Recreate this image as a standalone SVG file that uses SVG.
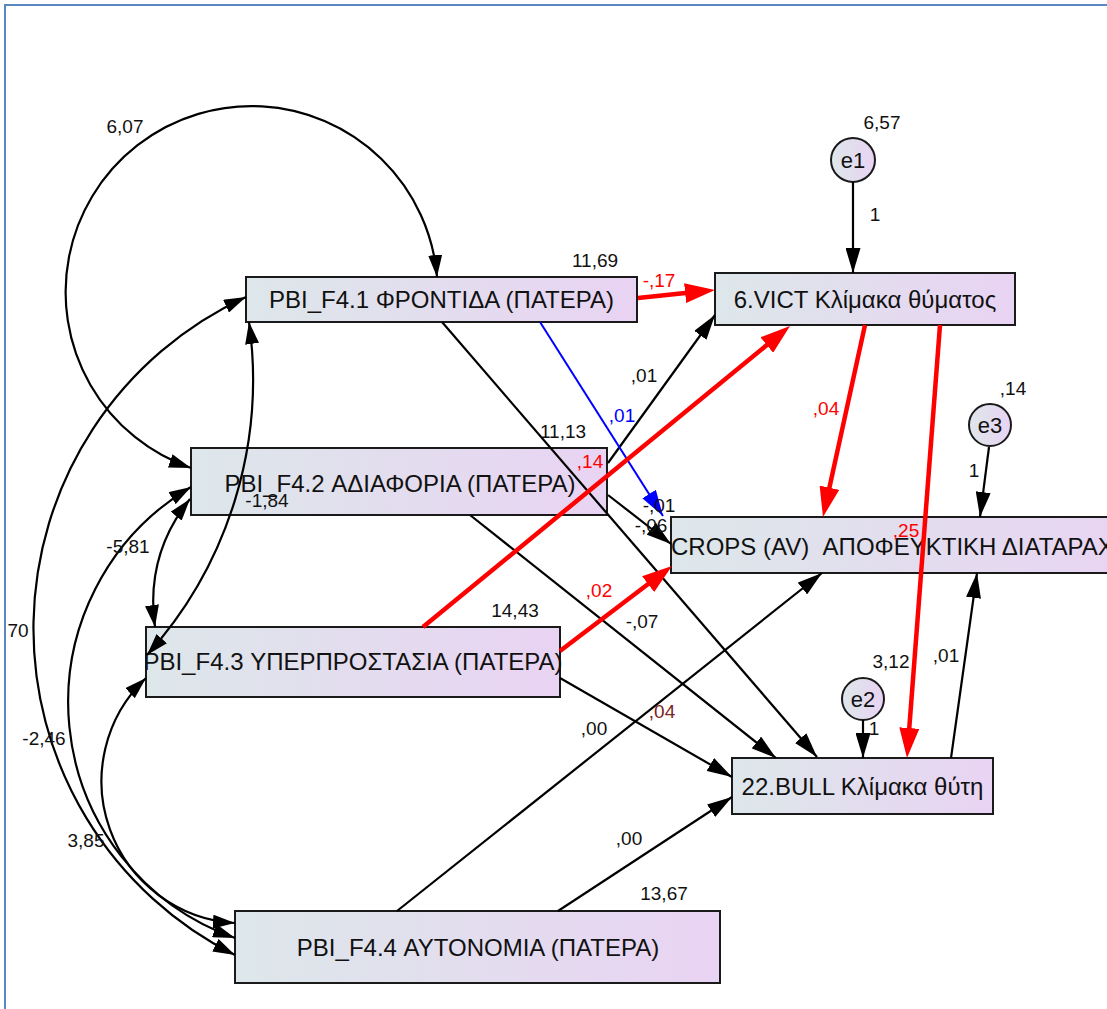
<svg xmlns="http://www.w3.org/2000/svg" width="1107" height="1009" viewBox="0 0 1107 1009">
<defs>
<linearGradient id="g" x1="0" y1="0" x2="1" y2="0">
<stop offset="0" stop-color="#dde7ea"/>
<stop offset="1" stop-color="#e9d3f3"/>
</linearGradient>
<marker id="aB" viewBox="0 0 25 15" refX="25" refY="7.5" markerWidth="25" markerHeight="15" markerUnits="userSpaceOnUse" orient="auto"><path d="M0,0 L25,7.5 L0,15 z" fill="#000"/></marker>
<marker id="aC" viewBox="0 0 22 14" refX="22" refY="7" markerWidth="22" markerHeight="14" markerUnits="userSpaceOnUse" orient="auto-start-reverse"><path d="M0,0 L22,7 L0,14 z" fill="#000"/></marker>
<marker id="aR" viewBox="0 0 30 20" refX="22" refY="10" markerWidth="30" markerHeight="20" markerUnits="userSpaceOnUse" orient="auto"><path d="M0,0 L30,10 L0,20 z" fill="#ff0000"/></marker>
<marker id="aBl" viewBox="0 0 26 16" refX="26" refY="8" markerWidth="26" markerHeight="16" markerUnits="userSpaceOnUse" orient="auto"><path d="M0,0 L26,8 L0,16 z" fill="#0000ff"/></marker>
</defs>
<style>
.box{fill:url(#g);stroke:#1a1a1a;stroke-width:2}
.nt{font-family:"Liberation Sans",Arial,sans-serif;font-size:24px;fill:#111;text-anchor:middle}
.et{font-family:"Liberation Sans",Arial,sans-serif;font-size:22px;fill:#111;text-anchor:middle}
.lb{font-family:"Liberation Sans",Arial,sans-serif;font-size:19px;fill:#111;text-anchor:middle}
.red{fill:#ff0000}
.blu{fill:#0000ff}
.mar{fill:#7a2424}
.k{fill:none;stroke:#000;stroke-width:2.2;marker-end:url(#aB)}
.cv{fill:none;stroke:#000;stroke-width:2.2;marker-start:url(#aC);marker-end:url(#aC)}
.r{fill:none;stroke:#ff0000;stroke-width:4.5;marker-end:url(#aR)}
.b{fill:none;stroke:#0000ff;stroke-width:2;marker-end:url(#aBl)}
</style>
<rect x="0" y="0" width="1107" height="1009" fill="#fff"/>
<rect x="5" y="5" width="1120" height="1020" fill="#fff" stroke="#5b87c3" stroke-width="2"/>

<g id="F41"><rect class="box" x="246" y="277" width="391" height="45"/><text class="nt" x="441.5" y="308">PBI_F4.1 ΦΡΟΝΤΙΔΑ (ΠΑΤΕΡΑ)</text></g>
<g id="F42"><rect class="box" x="191" y="448" width="416" height="67"/><text class="nt" x="400" y="492">PBI_F4.2 ΑΔΙΑΦΟΡΙΑ (ΠΑΤΕΡΑ)</text></g>
<g id="F43"><rect class="box" x="146" y="627" width="414" height="70"/><text class="nt" x="353" y="670">PBI_F4.3 ΥΠΕΡΠΡΟΣΤΑΣΙΑ (ΠΑΤΕΡΑ)</text></g>
<g id="F44"><rect class="box" x="235" y="911" width="485" height="72"/><text class="nt" x="478" y="956">PBI_F4.4 ΑΥΤΟΝΟΜΙΑ (ΠΑΤΕΡΑ)</text></g>
<g id="VICT"><rect class="box" x="715" y="273" width="300" height="52"/><text class="nt" x="865" y="308">6.VICT Κλίμακα θύματος</text></g>
<g id="CROPS"><rect class="box" x="671" y="517" width="480" height="56"/><text class="nt" x="671" y="555" style="text-anchor:start;white-space:pre">CROPS (AV)  ΑΠΟΦΕΥΚΤΙΚΗ ΔΙΑΤΑΡΑΧ</text></g>
<g id="BULL"><rect class="box" x="732" y="758" width="261" height="56"/><text class="nt" x="862.5" y="795">22.BULL Κλίμακα θύτη</text></g>
<g id="e1"><circle cx="853" cy="160" r="22" fill="url(#g)" stroke="#1a1a1a" stroke-width="2"/><text class="et" x="853" y="168">e1</text></g>
<g id="e3"><circle cx="990" cy="425" r="21" fill="url(#g)" stroke="#1a1a1a" stroke-width="2"/><text class="et" x="990" y="433">e3</text></g>
<g id="e2"><circle cx="863" cy="699" r="21" fill="url(#g)" stroke="#1a1a1a" stroke-width="2"/><text class="et" x="863" y="707">e2</text></g>

<g id="connectors">
<path class="cv" d="M191,468 A186,186 0 1,1 437,277"/>
<path class="cv" d="M246,297 A365,365 0 0,0 235,955"/>
<path class="cv" d="M191,487 A250,250 0 0,0 235,938"/>
<path class="cv" d="M146,678 A142,142 0 0,0 235,923"/>
<path class="cv" d="M249,322 A411,411 0 0,1 147,655"/>
<path class="cv" d="M190,499 Q145,555 155,627"/>
<path class="k" d="M853,182 L853,273"/>
<path class="k" d="M989,447 L980,517"/>
<path class="k" d="M863,720 L863,758"/>
<path class="k" d="M951,758 L977,573"/>
<path class="k" d="M442,322 L817,757"/>
<path class="k" d="M608,495 L671,544"/>
<path class="k" d="M470,515 L776,758"/>
<path class="k" d="M608,463 L715,315"/>
<path class="k" d="M560,678 L732,777"/>
<path class="k" d="M397,911 L822,573"/>
<path class="k" d="M558,911 L732,797"/>
<path class="b" d="M540,322 L663,516"/>
<path class="r" d="M638,298 L707,290.8"/>
<path class="r" d="M423,627 L783.8,331.1"/>
<path class="r" d="M560,651 L665.6,570.8"/>
<path class="r" d="M865,325 L824.7,509.2"/>
<path class="r" d="M940,325 L907.6,750"/>
</g>

<g id="labels">
<text class="lb" x="125" y="133">6,07</text>
<text class="lb" x="882" y="129">6,57</text>
<text class="lb" x="875" y="221">1</text>
<text class="lb" x="595" y="267">11,69</text>
<text class="lb red" x="659" y="287">-,17</text>
<text class="lb" x="644" y="382">,01</text>
<text class="lb blu" x="622" y="422">,01</text>
<text class="lb" x="563" y="438">11,13</text>
<text class="lb red" x="590" y="468">,14</text>
<text class="lb" x="659" y="512">-,01</text>
<text class="lb" x="651" y="532">-,06</text>
<text class="lb" x="267" y="507">-1,84</text>
<text class="lb" x="128" y="553">-5,81</text>
<text class="lb" x="18" y="637">70</text>
<text class="lb" x="44" y="745">-2,46</text>
<text class="lb" x="86" y="847">3,85</text>
<text class="lb" x="515" y="617">14,43</text>
<text class="lb red" x="599" y="597">,02</text>
<text class="lb" x="642" y="628">-,07</text>
<text class="lb mar" x="662" y="718">,04</text>
<text class="lb" x="594" y="735">,00</text>
<text class="lb" x="629" y="845">,00</text>
<text class="lb" x="664" y="900">13,67</text>
<text class="lb red" x="826" y="415">,04</text>
<text class="lb" x="1013" y="395">,14</text>
<text class="lb" x="974" y="477">1</text>
<text class="lb red" x="906" y="537">,25</text>
<text class="lb" x="891" y="668">3,12</text>
<text class="lb" x="946" y="662">,01</text>
<text class="lb" x="874" y="735">1</text>
</g>
</svg>
